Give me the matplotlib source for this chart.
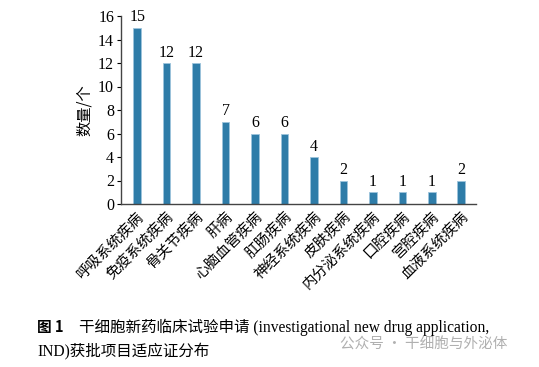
import matplotlib.pyplot as plt

categories = ['呼吸系统疾病', '免疫系统疾病', '骨关节疾病', '肝病', '心脑血管疾病', '肛肠疾病',
              '神经系统疾病', '皮肤疾病', '内分泌系统疾病', '口腔疾病', '宫腔疾病', '血液系统疾病']
counts = [15, 12, 12, 7, 6, 6, 4, 2, 1, 1, 1, 2]
yticks = [0, 2, 4, 6, 8, 10, 12, 14, 16]

cjk = ['Noto Sans CJK SC', 'DejaVu Sans']
serif = ['Liberation Serif', 'Noto Sans CJK SC']

fig = plt.figure(figsize=(5.39, 3.67), dpi=100)
ax = fig.add_axes([121 / 539, 1 - 204 / 367, 355 / 539, 188 / 367])

x = list(range(len(categories)))
bars = ax.bar(x, counts, width=0.26, color='#2e7ca8', edgecolor='#9cc4dc', linewidth=0.6)
for xi, v in zip(x, counts):
    ax.text(xi, v + 0.2, str(v), ha='center', va='bottom', fontsize=11.5, family=serif)

ax.set_xlim(-0.55, 11.5)
ax.set_ylim(0, 16)
ax.set_yticks(yticks)
ax.set_yticklabels([str(t) for t in yticks], family=serif, fontsize=11.5)
ax.set_xticks(x)
ax.set_xticklabels(categories, rotation=45, ha='right', rotation_mode='anchor',
                   family=cjk, fontsize=10.5)
ax.tick_params(axis='x', length=0, pad=4)
ax.tick_params(axis='y', length=3, width=0.8, direction='out', pad=2)
for s in ['top', 'right']:
    ax.spines[s].set_visible(False)
for s in ['left', 'bottom']:
    ax.spines[s].set_color('#444444')
    ax.spines[s].set_linewidth(1.0)
ax.set_ylabel('数量/个', family=cjk, fontsize=11, labelpad=4)

fig.text(37 / 539, 1 - 327 / 367, '图 1', family=cjk, fontsize=10.5, fontweight='bold', va='center')
fig.text(79 / 539, 1 - 327 / 367, '干细胞新药临床试验申请 (investigational new drug application,',
         family=['Liberation Serif', 'Noto Sans CJK SC'], fontsize=11.2, va='center')
fig.text(37 / 539, 1 - 352 / 367, 'IND)获批项目适应证分布',
         family=['Liberation Serif', 'Noto Sans CJK SC'], fontsize=11.2, va='center')
fig.text(340 / 539, 1 - 345 / 367, '公众号 · 干细胞与外泌体', family=cjk, fontsize=10.5,
         color='#b0b0b0', va='center')

fig.savefig('out.png', dpi=100)
